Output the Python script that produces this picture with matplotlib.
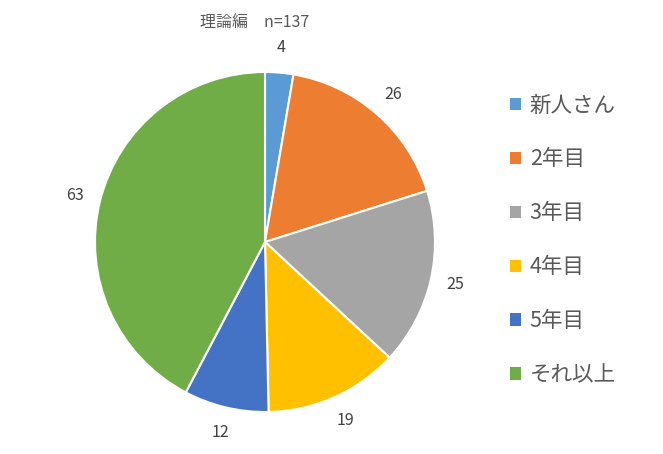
import numpy as np
import matplotlib
matplotlib.use("Agg")
import matplotlib.pyplot as plt
from matplotlib.patches import Patch

plt.rcParams['font.family'] = ['Noto Sans CJK JP', 'DejaVu Sans']

categories = ['新人さん', '2年目', '3年目', '4年目', '5年目', 'それ以上']
values = [4, 26, 25, 19, 12, 63]
colors = ['#5B9BD5', '#ED7D31', '#A5A5A5', '#FFC000', '#4472C4', '#70AD47']
title = '理論編\u3000n=137'

W, H = 663, 454
fig = plt.figure(figsize=(W / 100, H / 100), dpi=100)
cx, cy, r = 265, 242, 170
ax = fig.add_axes([(cx - r) / W, (H - cy - r) / H, 2 * r / W, 2 * r / H])
wedges, _ = ax.pie(values, colors=colors, startangle=90, counterclock=False,
                   wedgeprops=dict(edgecolor='white', linewidth=1.5))
ax.set_xlim(-1, 1)
ax.set_ylim(-1, 1)
ax.set_aspect('equal')
ax.axis('off')

for w, v in zip(wedges, values):
    ang = np.deg2rad((w.theta1 + w.theta2) / 2)
    d = 1.15
    ax.text(d * np.cos(ang), d * np.sin(ang), str(v), ha='center', va='center',
            fontsize=11.5, color='#404040', clip_on=False)

fig.text(255 / W, 1 - 22 / H, title, ha='center', va='center', fontsize=11.5, color='#595959')

handles = [Patch(facecolor=c, edgecolor='none') for c in colors]
leg = fig.legend(handles, categories, loc='upper left', bbox_to_anchor=(491 / W, 1 - 75 / H),
                 frameon=False, handlelength=0.5, handleheight=0.5,
                 handletextpad=0.4, labelspacing=1.485, labelcolor='#595959',
                 prop=dict(family=['Noto Sans CJK JP', 'DejaVu Sans'], size=15.5))
fig.savefig('out.png', dpi=100)
